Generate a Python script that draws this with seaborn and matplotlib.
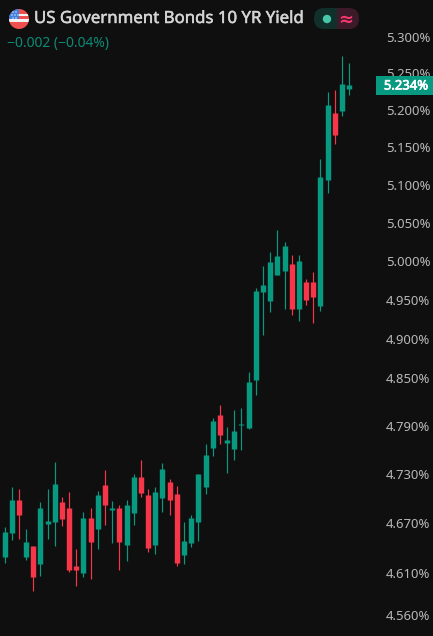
import matplotlib
matplotlib.use("Agg")
import matplotlib.pyplot as plt
from matplotlib.patches import Circle, Rectangle, FancyBboxPatch
from matplotlib.transforms import IdentityTransform
import matplotlib.patheffects as pe
import pandas as pd
import seaborn as sns

opens = [4.629,4.658,4.698,4.629,4.643,4.621,4.669,4.672,4.696,4.688,4.618,4.610,4.677,4.663,4.717,4.686,4.688,
         4.644,4.683,4.726,4.705,4.644,4.701,4.721,4.706,4.632,4.646,4.671,4.714,4.762,4.804,4.769,4.761,4.791,
         4.787,4.847,4.960,4.948,4.982,4.987,4.996,4.938,4.972,4.972,4.942,5.107,5.196,5.199,5.229]
highs = [4.666,4.714,4.712,4.663,4.643,4.696,4.712,4.745,4.702,4.708,4.639,4.684,4.688,4.710,4.735,4.697,4.692,
         4.698,4.730,4.748,4.712,4.714,4.744,4.724,4.716,4.671,4.680,4.730,4.767,4.800,4.816,4.789,4.810,4.812,
         4.857,4.965,4.993,5.012,5.041,5.025,5.008,5.008,4.976,4.985,5.135,5.225,5.228,5.274,5.264]
lows = [4.622,4.650,4.651,4.626,4.588,4.606,4.651,4.643,4.667,4.611,4.594,4.605,4.603,4.639,4.668,4.646,4.614,
        4.624,4.668,4.702,4.635,4.633,4.684,4.680,4.618,4.621,4.641,4.649,4.706,4.753,4.767,4.732,4.748,4.760,
        4.786,4.828,4.904,4.934,4.982,4.938,4.930,4.923,4.943,4.920,4.935,5.089,5.154,5.192,5.221]
closes = [4.660,4.698,4.680,4.647,4.605,4.688,4.673,4.718,4.675,4.614,4.614,4.677,4.647,4.705,4.692,4.688,4.647,
          4.692,4.726,4.707,4.640,4.708,4.737,4.698,4.622,4.649,4.677,4.730,4.754,4.796,4.779,4.772,4.784,4.792,
          4.845,4.961,4.969,4.998,5.007,5.020,4.938,5.000,4.949,4.953,5.111,5.207,5.166,5.236,5.234]
tick_values = [5.30,5.25,5.20,5.15,5.10,5.05,5.00,4.95,4.90,4.85,4.79,4.73,4.67,4.61,4.56]
tick_labels = ["5.300%","5.250%","5.200%","5.150%","5.100%","5.050%","5.000%","4.950%","4.900%",
               "4.850%","4.790%","4.730%","4.670%","4.610%","4.560%"]
title_text = "US Government Bonds 10 YR Yield"
change_text = "\u22120.002 (\u22120.04%)"
last_label = "5.234%"

BG = "#0f0f0f"; UP = "#089981"; DOWN = "#f7364a"
W, H = 433, 636
sns.set_theme(style="dark", rc={"axes.facecolor": BG, "figure.facecolor": BG})
plt.rcParams["font.family"] = ["Noto Sans", "DejaVu Sans"]

wick_rows, body_rows = [], []
for i, (o, h, l, c) in enumerate(zip(opens, highs, lows, closes)):
    d = "up" if c >= o else "down"
    wick_rows += [(i, l, d), (i, h, d)]
    body_rows += [(i, o, d), (i, c, d)]
wicks = pd.DataFrame(wick_rows, columns=["i", "price", "dir"])
bodies = pd.DataFrame(body_rows, columns=["i", "price", "dir"])

fig = plt.figure(figsize=(W/100, H/100), dpi=100, facecolor=BG)
AX_W = 378
ax = fig.add_axes([0, 0, AX_W/W, 1])
ax.set_yscale("log")
pal = {"up": UP, "down": DOWN}
sns.lineplot(data=wicks, x="i", y="price", hue="dir", units="i", estimator=None, palette=pal,
             linewidth=0.85, legend=False, solid_capstyle="butt", ax=ax, sort=False)
sns.lineplot(data=bodies, x="i", y="price", hue="dir", units="i", estimator=None, palette=pal,
             linewidth=3.9, legend=False, solid_capstyle="butt", ax=ax, sort=False)
STEP = 7.18
ax.set_xlim(-4.5/STEP, (AX_W-4.5)/STEP)
ax.set_ylim(4.535, 5.3513)
ax.set_xticks([]); ax.set_xlabel(""); ax.set_ylabel("")
ax.yaxis.tick_right()
ax.set_yticks(tick_values, tick_labels)
ax.yaxis.set_minor_locator(matplotlib.ticker.NullLocator())
ax.tick_params(axis="y", length=0, pad=5.5, labelsize=9.4, labelcolor="#b8b8b8")
ax.grid(False)
for s in ax.spines.values():
    s.set_visible(False)

px = IdentityTransform()
def Y(y):
    return H - y

# flag
cx, cy, r = 19, Y(19), 10
clip = Circle((cx, cy), r, transform=px)
stripes = [(9, 14, "#ef4f4f"), (14, 16, "#f2f2f2"), (16, 19, "#ef4f4f"), (19, 22, "#f2f2f2"), (22, 29, "#ef4f4f")]
for y0, y1, col in stripes:
    p = Rectangle((9, Y(y1)), 20, y1-y0, transform=px, color=col, lw=0, zorder=6)
    fig.add_artist(p); p.set_clip_path(clip)
p = Rectangle((9, Y(19)), 10, 10, transform=px, color="#3f7fe0", lw=0, zorder=7)
fig.add_artist(p); p.set_clip_path(clip)
for dx, dy in [(13, 12), (16, 12), (12, 15), (15, 15), (18, 15), (13, 18), (16, 18)]:
    fig.add_artist(Circle((dx, Y(dy)), 0.7, transform=px, color="#f2f2f2", lw=0, zorder=8))

# legend pill
for x0, x1, col in [(314, 337, "#12302b"), (337, 359, "#3c1a28")]:
    pill = FancyBboxPatch((314, Y(29)), 45, 21, boxstyle="round,pad=0,rounding_size=10", transform=px,
                          mutation_aspect=1, lw=0, color=col, zorder=6)
    fig.add_artist(pill)
    pill.set_clip_path(Rectangle((x0, 0), x1-x0, H, transform=px))
fig.add_artist(Circle((327, Y(19)), 4.2, transform=px, color="#45c7a8", lw=0, zorder=7))
fig.text(346/W, 1-19.5/H, "\u2248", color="#f5386d", fontsize=13, ha="center", va="center",
         fontweight="bold", family="DejaVu Sans", zorder=7)

t = fig.text(34/W, 1-19/H, title_text, color="#d4d4d4", fontsize=12.1, ha="left", va="center", zorder=7)
t.set_path_effects([pe.withStroke(linewidth=0.35, foreground="#d4d4d4")])
fig.text(7/W, 1-43/H, change_text, color="#0d8a76", fontsize=10, ha="left", va="center", zorder=7)

# last price tag
fig.add_artist(Rectangle((376, Y(95)), 57, 19, transform=px, color=UP, lw=0, zorder=6))
t2 = fig.text(428/W, 1-86/H, last_label, color="#ffffff", fontsize=9.4, ha="right", va="center", zorder=7)
t2.set_path_effects([pe.withStroke(linewidth=0.5, foreground="#ffffff")])

fig.savefig("out.png", dpi=100, facecolor=BG)
